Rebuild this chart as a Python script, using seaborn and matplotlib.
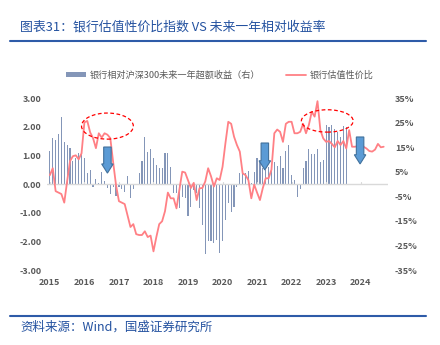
import numpy as np
import pandas as pd
import seaborn as sns
import matplotlib
matplotlib.use("Agg")
import matplotlib.pyplot as plt
from matplotlib.patches import Ellipse, Polygon
from matplotlib.lines import Line2D
from matplotlib.patches import Patch

# ---------------- data ----------------
years = [2015, 2016, 2017, 2018, 2019, 2020, 2021, 2022, 2023, 2024]

# 银行估值性价比 (left axis), monthly from 2015-01
value_index = [
    0.31, 0.55, -0.25, -0.30, -0.35, -0.65, 0.10, 0.80, 0.97, 1.00,
    0.86, 1.07, 2.15, 2.20, 1.80, 1.60, 1.25, 1.77, 1.62, 1.77,
    1.72, 1.60, 0.75, -0.05, -0.60, -0.65, -0.70, -1.10, -1.50, -1.40,
    -1.75, -1.78, -1.78, -1.65, -1.85, -1.80, -2.35, -1.85, -1.40, -1.30,
    -0.95, -0.30, -0.50, -0.50, -0.85, -0.20, 0.43, 0.40, 0.13, -0.14,
    0.04, -0.56, -0.15, -0.14, 0.09, 0.55, 0.27, -0.09, 0.20, 0.14,
    0.60, 1.42, 2.17, 2.10, 1.65, 1.36, 1.13, 0.37, 0.31, 0.13,
    -0.50, -0.02, -0.30, -0.56, -0.14, 0.20, 0.20, 0.50, 1.77, 1.90,
    1.82, 1.47, 2.10, 2.17, 2.17, 1.77, 1.77, 1.82, 2.10, 1.77,
    2.06, 2.52, 2.35, 2.89, 1.88, 1.59, 1.47, 1.50, 1.40, 1.28,
    1.50, 1.36, 1.50, 1.24, 1.88, 1.30, 1.30, 1.32, 1.40, 1.30,
    1.24, 1.15, 1.13, 1.20, 1.40, 1.28, 1.30,
]

# 银行相对沪深300未来一年超额收益 (right axis, %), monthly from 2015-01
excess_return = [
    13.4, 18.8, 17.9, 20.2, 27.4, 16.9, 15.9, 14.5, 9.5, 10.4,
    12.7, 13.8, 10.4, 4.3, 5.7, -1.1, 1.9, 0.3, 5.0, 1.4,
    -1.8, -4.2, -1.1, -4.9, -1.2, -1.9, -3.1, 3.3, -5.6, -1.9,
    -0.4, 4.6, 9.5, 19.2, 13.1, 14.1, 10.4, 7.7, 6.4, 6.4,
    12.5, 12.6, 6.8, -3.5, -3.5, -9.9, -5.1, -5.8, -13.0, -9.2,
    -2.4, -3.8, -9.9, -16.7, -28.5, -23.0, -23.4, -24.1, -22.8, -27.9,
    -23.0, -14.6, -7.8, -11.2, -9.2, -1.4, 4.3, 5.7, 4.6, 5.3,
    0.5, 5.0, 10.4, 9.1, 6.4, 5.7, 7.0, 5.7, 9.1, 7.3,
    11.5, 6.5, 13.4, 15.9, 3.7, 1.6, -5.4, -2.2, 6.4, 9.3,
    14.1, 12.2, 12.2, 14.1, 9.1, 9.8, 24.0, 23.3, 24.0, 22.2,
    21.3, 19.2, 23.6, 23.0,
]

left_ticks = [-3, -2, -1, 0, 1, 2, 3]
right_ticks = [-35, -25, -15, -5, 5, 15, 25, 35]

title = "图表31：银行估值性价比指数 VS 未来一年相对收益率"
source = "资料来源：Wind，国盛证券研究所"
bar_label = "银行相对沪深300未来一年超额收益（右）"
line_label = "银行估值性价比"

line_df = pd.DataFrame({"m": np.arange(len(value_index)), "v": value_index})
bar_df = pd.DataFrame({"m": np.arange(len(excess_return)), "r": excess_return})

# ---------------- style ----------------
sns.set_theme(style="white")
plt.rcParams["font.family"] = ["Noto Sans CJK SC", "DejaVu Sans"]

BAR_C = "#8496B8"
LINE_C = "#FF8085"
GRAY = "#595959"
BLUE = "#2452A0"

fig = plt.figure(figsize=(4.4, 3.45), dpi=100)
ax1 = fig.add_axes([47 / 440, 1 - 270 / 345, (388 - 47) / 440, (270 - 98) / 345])
ax2 = ax1.twinx()

sns.barplot(data=bar_df, x="m", y="r", native_scale=True, width=0.4,
            color=BAR_C, saturation=1, ax=ax2, edgecolor="none")
sns.lineplot(data=line_df, x="m", y="v", color=LINE_C, lw=1.3, ax=ax1)

ax1.set_zorder(ax2.get_zorder() + 1)
ax1.patch.set_visible(False)

ax1.set_xlim(-1.0, 117.5)
ax1.set_ylim(-3, 3)
ax2.set_ylim(-35, 35)

ax1.axhline(0, color="#D9D9D9", lw=1.0, zorder=0)
for yr in years:
    m = (yr - 2015) * 12
    ax1.plot([m, m], [0, 0.07], color="#D9D9D9", lw=0.8, zorder=0)

tick_font = dict(fontsize=6.5, fontweight="bold", color=GRAY)
ax1.set_yticks(left_ticks)
ax1.set_yticklabels([f"{t:.2f}" for t in left_ticks], **tick_font)
ax2.set_yticks(right_ticks)
ax2.set_yticklabels([f"{t}%" for t in right_ticks], **tick_font)
ax1.set_xticks([(y - 2015) * 12 for y in years])
ax1.set_xticklabels([str(y) for y in years], **tick_font)
ax1.tick_params(axis="both", length=0, pad=4)
ax2.tick_params(axis="both", length=0, pad=5)
ax1.tick_params(axis="x", pad=6)
ax1.set_xlabel("")
ax1.set_ylabel("")
ax2.set_ylabel("")
ax2.set_xlabel("")
for a in (ax1, ax2):
    for s in a.spines.values():
        s.set_visible(False)
    a.grid(False)

# annotations: dashed ellipses
for (cx, cy, w, h) in [(20.0, 2.02, 18, 0.91), (96.4, 2.2, 18, 0.78)]:
    ax1.add_patch(Ellipse((cx, cy), w, h, fill=False, ec="#FF0000",
                          ls=(0, (3, 2)), lw=0.9, zorder=5))

# blue down arrows
def down_arrow(ax, x, top, bottom):
    sw, hw, hl = 1.3, 2.0, 0.32
    pts = [(x - sw, top), (x + sw, top), (x + sw, bottom + hl),
           (x + hw, bottom + hl), (x, bottom), (x - hw, bottom + hl),
           (x - sw, bottom + hl)]
    ax.add_patch(Polygon(pts, closed=True, fc="#5B9BD5", ec="#41719C",
                         lw=0.8, zorder=6))

down_arrow(ax1, 20.0, 1.29, 0.38)
down_arrow(ax1, 74.7, 1.43, 0.49)
down_arrow(ax1, 107.8, 1.64, 0.70)

# legend
handles = [Patch(facecolor=BAR_C, edgecolor="none"),
           Line2D([0], [0], color=LINE_C, lw=1.3)]
fig.legend(handles, [bar_label, line_label], loc="center",
           bbox_to_anchor=(220 / 440, 1 - 75 / 345), ncol=2, frameon=False,
           prop={"size": 6.6}, labelcolor=GRAY, handlelength=2.2,
           handleheight=0.5, columnspacing=2.8, handletextpad=0.4)

# title, rules, source
fig.text(20 / 440, 1 - 27 / 345, title, fontsize=9.3, color=BLUE,
         va="center", ha="left")
fig.add_artist(Line2D([10 / 440, 426 / 440], [1 - 41 / 345] * 2,
                      color="#2E5BA8", lw=1.5))
fig.add_artist(Line2D([10 / 440, 426 / 440], [1 - 316 / 345] * 2,
                      color="#2E5BA8", lw=1.5))
fig.text(20 / 440, 1 - 327 / 345, source, fontsize=9, color=BLUE,
         va="center", ha="left")

fig.savefig("out.png", dpi=100)
